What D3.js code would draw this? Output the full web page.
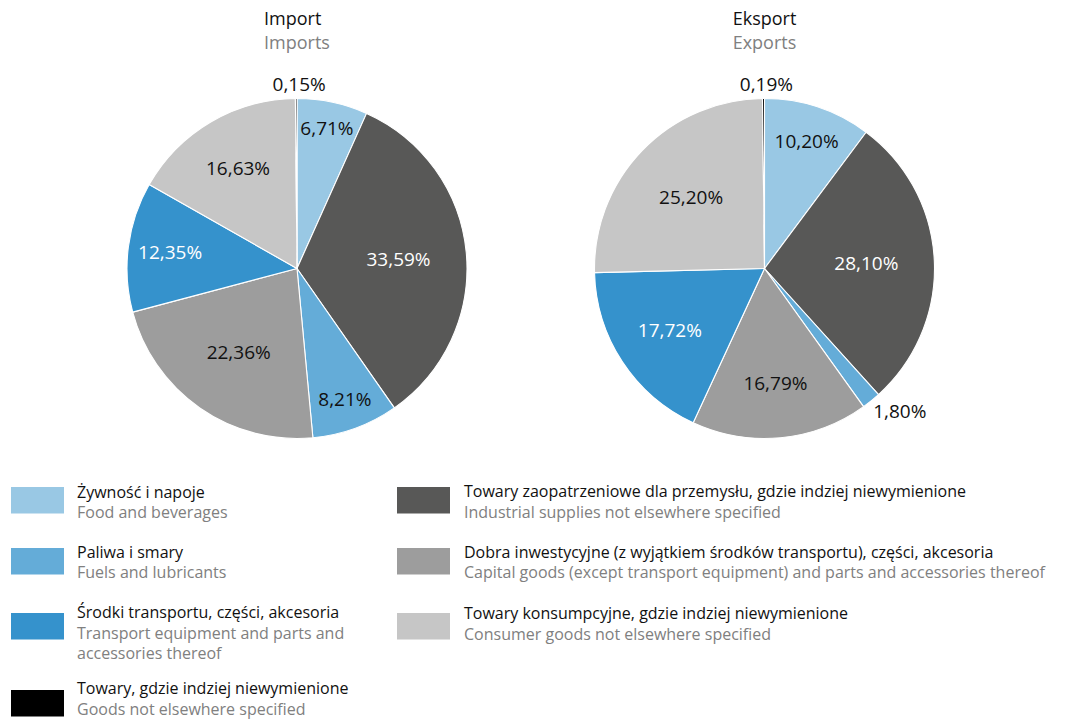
<!DOCTYPE html>
<html>
<head>
<meta charset="utf-8">
<script src="https://cdn.jsdelivr.net/npm/d3@7"></script>
<style>
  html, body { margin: 0; padding: 0; background: #fff; }
  svg { display: block; font-family: "Open Sans", "Noto Sans", sans-serif; }
</style>
</head>
<body>
<svg id="chart" width="1073" height="723"></svg>
<script>
// ---- data ----
const categoriesPL = [
  "Żywność i napoje",
  "Towary zaopatrzeniowe dla przemysłu, gdzie indziej niewymienione",
  "Paliwa i smary",
  "Dobra inwestycyjne (z wyjątkiem środków transportu), części, akcesoria",
  "Środki transportu, części, akcesoria",
  "Towary konsumpcyjne, gdzie indziej niewymienione",
  "Towary, gdzie indziej niewymienione"
];
const categoriesEN = [
  "Food and beverages",
  "Industrial supplies not elsewhere specified",
  "Fuels and lubricants",
  "Capital goods (except transport equipment) and parts and accessories thereof",
  "Transport equipment and parts and accessories thereof",
  "Consumer goods not elsewhere specified",
  "Goods not elsewhere specified"
];
const importValues = [6.71, 33.59, 8.21, 22.36, 12.35, 16.63, 0.15];
const exportValues = [10.20, 28.10, 1.80, 16.79, 17.72, 25.20, 0.19];
const chartTitlesPL = ["Import", "Eksport"];
const chartTitlesEN = ["Imports", "Exports"];
const legendLeftOrder = [0, 2, 4, 6];
const legendRightOrder = [1, 3, 5];

// ---- styles ----
const palette = ["#99c8e4", "#585857", "#64acd8", "#9d9d9d", "#3592cc", "#c6c6c6", "#000000"];
const labelInk = ["#111", "#fff", "#111", "#111", "#fff", "#111", "#111"];
const greyText = "#808080";
const darkText = "#111";

const svg = d3.select("#chart");
const R = 170;
const centers = [[297, 268.5], [764.5, 268.5]];
const fmt = v => d3.format(".2f")(v).replace(".", ",") + "%";

const color = d3.scaleOrdinal().domain(d3.range(categoriesPL.length)).range(palette);
const pie = d3.pie().sort(null).value(d => d.value);
const arc = d3.arc().innerRadius(0).outerRadius(R);

[importValues, exportValues].forEach((vals, ci) => {
  const [cx, cy] = centers[ci];
  const g = svg.append("g").attr("transform", `translate(${cx},${cy})`);
  const data = vals.map((v, i) => ({ value: v, idx: i }));
  const arcs = pie(data);

  g.selectAll("path").data(arcs).join("path")
    .attr("d", arc)
    .attr("fill", d => color(d.data.idx))
    .attr("stroke", "#fff")
    .attr("stroke-width", 1.1)
    .attr("stroke-linejoin", "round");

  const fs = 19;
  arcs.forEach(d => {
    const pct = d.data.value;
    const a = (d.startAngle + d.endAngle) / 2;
    const s = Math.sin(a), c = Math.cos(a);
    const t = g.append("text")
      .attr("font-size", fs)
      .text(fmt(pct));
    if (pct < 3) {
      const r = R + 8;
      const x = s * r, y = -c * r;
      let anchor = "middle";
      if (s > 0.3) anchor = "start"; else if (s < -0.3) anchor = "end";
      t.attr("x", x + (anchor === "middle" ? 3 : -3))
        .attr("y", y - c * 6)
        .attr("dy", "0.35em")
        .attr("text-anchor", anchor)
        .attr("fill", darkText);
    } else {
      const f = Math.max(0.6, 0.95 - 0.016 * pct);
      const l = d3.arc().innerRadius(R * f).outerRadius(R * f);
      const [x, y] = l.centroid(d);
      t.attr("x", x).attr("y", y)
        .attr("dy", "0.35em")
        .attr("text-anchor", "middle")
        .attr("fill", labelInk[d.data.idx]);
    }
  });

  // titles: both lines share a left edge, with the subtitle centred over the pie
  const sub = svg.append("text")
    .attr("x", cx).attr("y", 48.5)
    .attr("text-anchor", "middle")
    .attr("font-size", 18)
    .attr("fill", greyText)
    .text(chartTitlesEN[ci]);
  const w = sub.node().getComputedTextLength();
  svg.append("text")
    .attr("x", cx - w / 2).attr("y", 24.5)
    .attr("font-size", 18)
    .attr("fill", darkText)
    .text(chartTitlesPL[ci]);
});

// ---- legend ----
const legendFs = 16;
const lineH = 20.5;
function wrapLines(text, maxW, size) {
  const tmp = svg.append("text").attr("font-size", size);
  const words = text.split(" ");
  const lines = [];
  let cur = "";
  words.forEach(wd => {
    const test = cur ? cur + " " + wd : wd;
    tmp.text(test);
    if (tmp.node().getComputedTextLength() > maxW && cur) {
      lines.push(cur); cur = wd;
    } else cur = test;
  });
  if (cur) lines.push(cur);
  tmp.remove();
  return lines;
}
function drawLegend(order, swX, txtX, rowTops, textTops, maxW) {
  order.forEach((idx, k) => {
    const top = rowTops[k];
    svg.append("rect")
      .attr("x", swX).attr("y", top)
      .attr("width", 53).attr("height", 26.5)
      .attr("fill", color(idx));
    let y = textTops[k];
    wrapLines(categoriesPL[idx], maxW, legendFs).forEach(line => {
      svg.append("text").attr("x", txtX).attr("y", y)
        .attr("font-size", legendFs).attr("fill", darkText).text(line);
      y += lineH;
    });
    wrapLines(categoriesEN[idx], maxW, legendFs).forEach(line => {
      svg.append("text").attr("x", txtX).attr("y", y)
        .attr("font-size", legendFs).attr("fill", greyText).text(line);
      y += lineH;
    });
  });
}
drawLegend(legendLeftOrder, 11, 77, [487, 548, 613, 690], [497.5, 557.5, 618, 694], 300);
drawLegend(legendRightOrder, 397, 464, [487, 548, 613], [497, 557.5, 619], 640);
</script>
</body>
</html>
